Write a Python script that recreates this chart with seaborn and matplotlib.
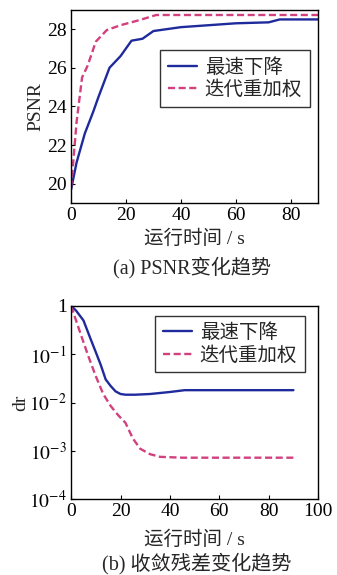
import seaborn as sns
import numpy as np
import matplotlib
matplotlib.use("Agg")
import matplotlib.pyplot as plt
import pandas as pd

# (a) PSNR 变化趋势
t_sd = [0, 1, 2, 5, 8, 10, 14, 18, 22, 26, 30, 35, 40, 50, 60, 72, 76, 90]
psnr_sd = [19.7, 20.4, 21.1, 22.6, 23.7, 24.5, 26.0, 26.6, 27.4, 27.5, 27.9, 28.0, 28.1, 28.2, 28.3, 28.35, 28.5, 28.5]
t_irw = [0, 1, 2, 4, 6, 9, 13, 18, 25, 31, 40, 60, 90]
psnr_irw = [19.8, 21.5, 23.2, 25.5, 26.1, 27.35, 27.95, 28.2, 28.47, 28.73, 28.73, 28.73, 28.73]

# (b) 收敛残差变化趋势
t_sd_b = [0, 2, 5, 8, 10, 12, 14, 16, 18, 20, 22, 26, 32, 40, 46, 60, 90]
dr_sd = [1.0, 0.8, 0.5, 0.2, 0.11, 0.06, 0.03, 0.022, 0.017, 0.015, 0.0145, 0.0145, 0.015, 0.0165, 0.018, 0.018, 0.018]
t_irw_b = [0, 2, 4, 7, 10, 13, 16, 19, 22, 25, 28, 32, 36, 45, 60, 90]
dr_irw_b = [1.0, 0.5, 0.25, 0.09, 0.035, 0.015, 0.0085, 0.0055, 0.0038, 0.0018, 0.0011, 0.00085, 0.00075, 0.00072, 0.00072, 0.00072]

labels = ["最速下降", "迭代重加权"]
log_ticks = [1e-4, 1e-3, 1e-2, 1e-1, 1]
log_labels = ["$10^{-4}$", "$10^{-3}$", "$10^{-2}$", "$10^{-1}$", "1"]

sns.set_style("ticks")
plt.rcParams['font.family'] = ['Liberation Serif', 'Noto Sans CJK SC']
plt.rcParams['mathtext.fontset'] = 'stix'
plt.rcParams['xtick.direction'] = 'in'
plt.rcParams['ytick.direction'] = 'in'

BLUE = "#1f2a9c"
PINK = "#d2407e"

fig = plt.figure(figsize=(3.37, 5.75), dpi=100, facecolor="white")
ax1 = fig.add_axes([0.211, 0.647, 0.733, 0.336])
ax2 = fig.add_axes([0.211, 0.132, 0.733, 0.336])

df_a = pd.concat([
    pd.DataFrame({"t": t_sd, "v": psnr_sd, "m": labels[0]}),
    pd.DataFrame({"t": t_irw, "v": psnr_irw, "m": labels[1]}),
])
df_b = pd.concat([
    pd.DataFrame({"t": t_sd_b, "v": dr_sd, "m": labels[0]}),
    pd.DataFrame({"t": t_irw_b, "v": dr_irw_b, "m": labels[1]}),
])

pal = {labels[0]: BLUE, labels[1]: PINK}
dash = {labels[0]: "", labels[1]: (3, 1.5)}

for ax, df in [(ax1, df_a), (ax2, df_b)]:
    sns.lineplot(data=df, x="t", y="v", hue="m", style="m", palette=pal,
                 dashes=dash, linewidth=1.7, ax=ax, sort=False)
    for s in ax.spines.values():
        s.set_visible(True)
        s.set_linewidth(1.0)
        s.set_color("black")
    ax.tick_params(labelsize=14, length=3, width=0.8, colors="black", pad=3)
    leg = ax.legend(loc="upper right", fontsize=14, frameon=True, fancybox=False,
                    edgecolor="black", handlelength=1.5, handletextpad=0.4,
                    borderpad=0.4, labelspacing=0.2, borderaxespad=0.3,
                    bbox_to_anchor=(0.99, 0.82) if ax is ax1 else (0.97, 0.98))
    leg.get_frame().set_linewidth(1.0)

ax1.set_xlim(0, 90)
ax1.set_ylim(19, 29)
ax1.set_xticks([0, 20, 40, 60, 80])
ax1.set_yticks([20, 22, 24, 26, 28])
ax1.set_ylabel("PSNR", fontsize=14, labelpad=2)
ax1.set_xlabel("运行时间 / s", fontsize=14, labelpad=4)

ax2.set_yscale("log")
ax2.set_xlim(0, 100)
ax2.set_ylim(1e-4, 1)
ax2.set_xticks([0, 20, 40, 60, 80, 100])
ax2.set_yticks(log_ticks)
ax2.set_yticklabels(log_labels)
ax2.minorticks_off()
ax2.set_ylabel("dr", fontsize=14, labelpad=0)
ax2.set_xlabel("运行时间 / s", fontsize=14, labelpad=7)

fig.text(0.57, 0.534, "(a) PSNR变化趋势", ha="center", va="center", fontsize=14.5)
fig.text(0.585, 0.019, "(b) 收敛残差变化趋势", ha="center", va="center", fontsize=14.5)

fig.savefig("out.png", dpi=100, facecolor="white")
